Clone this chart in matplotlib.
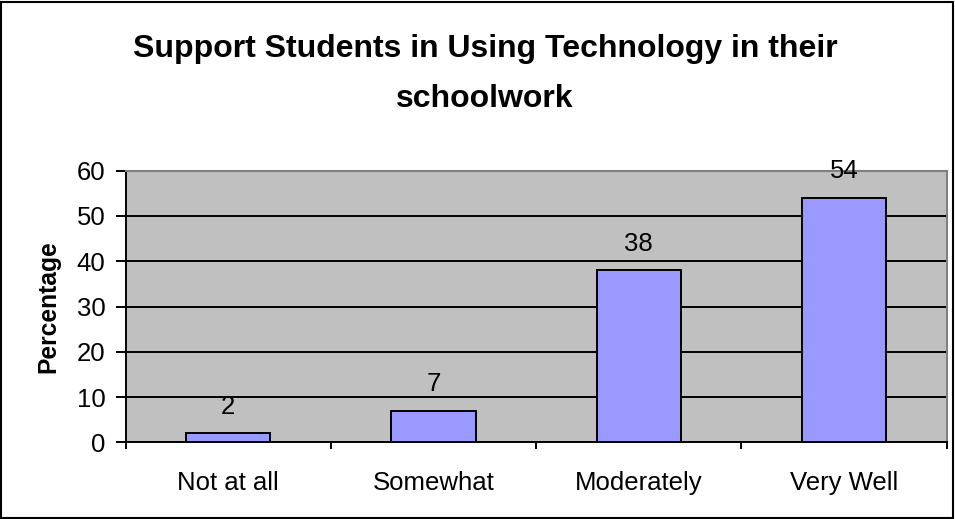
import matplotlib
matplotlib.use("Agg")
import matplotlib.pyplot as plt
from matplotlib.patches import Rectangle

categories = ["Not at all", "Somewhat", "Moderately", "Very Well"]
values = [2, 7, 38, 54]
yticks = [0, 10, 20, 30, 40, 50, 60]
title_lines = ["Support Students in Using Technology in their", "schoolwork"]
ylabel = "Percentage"

plt.rcParams["font.family"] = ["Liberation Sans", "DejaVu Sans"]

W, H = 955, 519
fig = plt.figure(figsize=(W / 100, H / 100), dpi=100)

# plot area in pixel coordinates
left, right, top, bottom = 125.7, 946.7, 170.7, 442.3
ax = fig.add_axes([left / W, 1 - bottom / H, (right - left) / W, (bottom - top) / H])

ax.set_facecolor("#C0C0C0")
x = list(range(len(categories)))
ax.bar(x, values, width=0.41, color="#9999FF", edgecolor="black", linewidth=1.4, zorder=3)
for xi, v in zip(x, values):
    ax.annotate(str(v), (xi, v), xytext=(0, 14), textcoords="offset points",
                ha="center", va="baseline", fontsize=18.5, zorder=4)

ax.set_xlim(-0.5, len(categories) - 0.5)
ax.set_ylim(0, 60)
ax.set_yticks(yticks)
ax.yaxis.grid(True, color="black", linewidth=1.4)
ax.set_axisbelow(True)

# tick marks between categories, labels centred under each bar
ax.set_xticks([i + 0.5 for i in range(-1, len(categories))])
ax.set_xticklabels([])
ax.set_xticks(x, minor=True)
ax.set_xticklabels(categories, minor=True, fontsize=18.5)
ax.tick_params(axis="x", which="major", length=5, width=1.4, direction="out")
ax.tick_params(axis="x", which="minor", length=0, pad=21)
ax.tick_params(axis="y", length=7, width=1.4, direction="out", labelsize=18.5, pad=7.5)

for s in ("top", "right"):
    ax.spines[s].set_color("#808080")
    ax.spines[s].set_linewidth(1.5)
for s in ("left", "bottom"):
    ax.spines[s].set_color("black")
    ax.spines[s].set_linewidth(1.4)

ax.set_ylabel(ylabel, fontsize=17.7, fontweight="bold", va="center")
ax.yaxis.set_label_coords((48 - left) / (right - left), 0.5)

for line, base in zip(title_lines, (56.7, 106.7)):
    fig.text(485 / W, 1 - base / H, line, ha="center", va="baseline",
             fontsize=23, fontweight="bold")

fig.patches.append(Rectangle((0.75 / W, 1.5 / H), (W - 2.5) / W, (H - 3) / H,
                             transform=fig.transFigure, fill=False,
                             edgecolor="black", linewidth=1.5))

fig.savefig("out.png", dpi=100)
